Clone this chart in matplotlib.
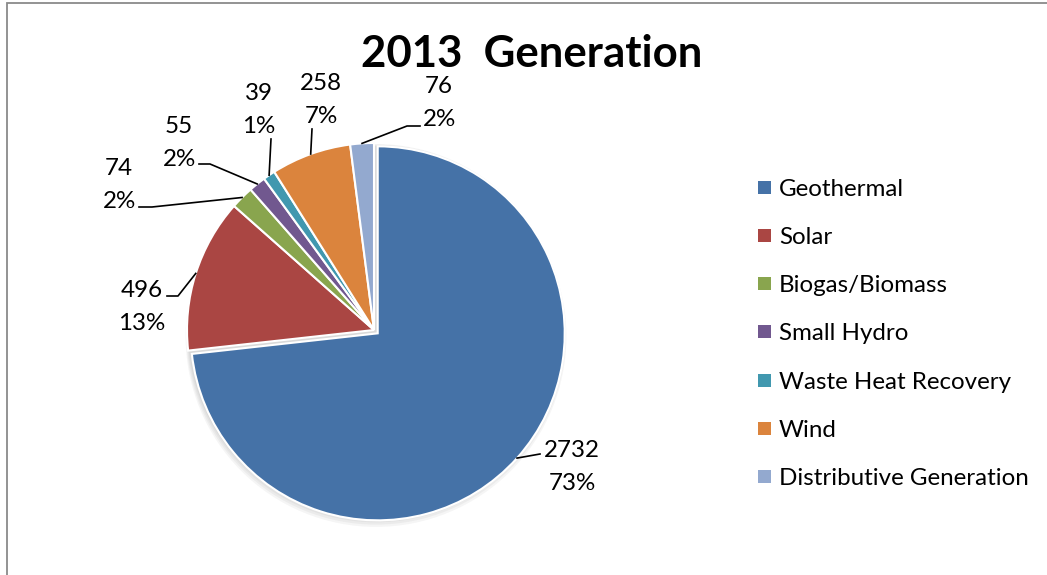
import numpy as np
import matplotlib
matplotlib.use('Agg')
import matplotlib.pyplot as plt
from matplotlib.patches import Rectangle, Circle

plt.rcParams['font.family'] = ['Lato', 'DejaVu Sans']

# 2013 generation by source
sources = ['Geothermal', 'Solar', 'Biogas/Biomass', 'Small Hydro',
           'Waste Heat Recovery', 'Wind', 'Distributive Generation']
values = [2732, 496, 74, 55, 39, 258, 76]
pcts = ['73%', '13%', '2%', '2%', '1%', '7%', '2%']
colors = ['#4572A7', '#AA4643', '#89A54E', '#71588F', '#4198AF', '#DB843D', '#93A9CF']

W, H = 1047, 575
# canvas works in pixels, y measured from the top
def py(y):
    return H - y

fig = plt.figure(figsize=(W / 100, H / 100), dpi=100)
ax = fig.add_axes([0, 0, 1, 1])

# chart frame (only left and top show)
ax.add_patch(Rectangle((7, -50), W + 100, py(3) + 50, fill=False,
                       edgecolor='#8a8a8a', linewidth=1.3, zorder=0))

cx, cy, R = 374, 330, 187
explode = [5, 0, 0, 0, 0, 0, 0]   # pie() adds this straight to the centre

# soft shadow under the pie
for k in range(4):
    ax.add_patch(Circle((cx + 2, py(cy + 2 + k * 1.5)), R + 1 + k * 0.8,
                        color='#404040', alpha=0.05, linewidth=0, zorder=1))

wedges, _ = ax.pie(values, colors=colors, startangle=90, counterclock=False,
                   radius=R, center=(cx, py(cy)), explode=explode, frame=True,
                   wedgeprops=dict(edgecolor='white', linewidth=1.5, zorder=2))
ax.set_xlim(0, W)
ax.set_ylim(0, H)
ax.set_aspect('equal')
ax.axis('off')

# label anchor: centre x and baseline of the value line; leader path points
label_pos = [(572, 457), (142, 297), (119, 175), (179, 133), (259, 100), (321, 90), (439, 93)]
leaders = [
    [(540, 454)],
    [(178, 296), (167, 296)],
    [(152, 207), (139, 207)],
    [(210, 164), (199, 164)],
    [(271, 139)],
    [(312, 129)],
    [(407, 126), (420, 126)],
]

fs = 17.4
for w, v, p, (lx, ly), path in zip(wedges, values, pcts, label_pos, leaders):
    ang = np.deg2rad((w.theta1 + w.theta2) / 2)
    wx, wy = w.center
    x0 = wx + R * np.cos(ang)
    y0 = wy + R * np.sin(ang)
    xs = [x0] + [q[0] for q in path]
    ys = [y0] + [py(q[1]) for q in path]
    ax.plot(xs, ys, color='black', linewidth=1.2, zorder=3)
    ax.text(lx, py(ly), str(v), ha='center', va='baseline', fontsize=fs, zorder=4)
    ax.text(lx, py(ly + 33), p, ha='center', va='baseline', fontsize=fs, zorder=4)

ax.text(532, py(67), '2013  Generation', ha='center', va='baseline',
        fontsize=31.5, fontweight='bold')

# legend
for i, (name, c) in enumerate(zip(sources, colors)):
    yc = 187 + i * 48.3
    ax.add_patch(Rectangle((758, py(yc + 6.5)), 13, 13, color=c, linewidth=0))
    ax.text(779, py(yc), name, ha='left', va='center_baseline', fontsize=fs)

fig.savefig('out.png', dpi=100)
